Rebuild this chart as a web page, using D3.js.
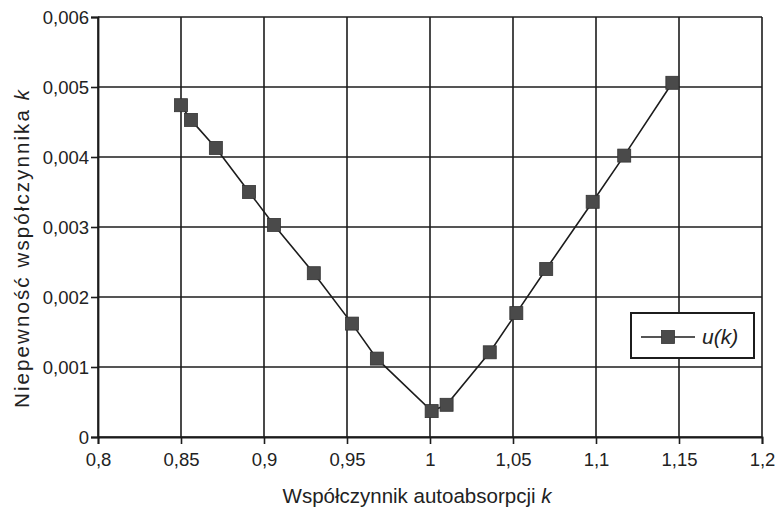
<!DOCTYPE html>
<html>
<head>
<meta charset="utf-8">
<script src="https://cdn.jsdelivr.net/npm/d3@7"></script>
<style>
  html, body { margin: 0; padding: 0; background: #fff; }
  svg { display: block; font-family: "Liberation Sans", Arial, sans-serif; }
</style>
</head>
<body>
<svg id="chart" width="777" height="517"></svg>
<script>
// Współczynnik autoabsorpcji k i jego niepewność u(k)
const kValues = [0.850, 0.856, 0.871, 0.891, 0.906, 0.930, 0.953, 0.968, 1.001, 1.010, 1.036, 1.052, 1.070, 1.098, 1.117, 1.146];
const uValues = [0.00474, 0.00453, 0.00413, 0.00350, 0.00303, 0.00234, 0.00162, 0.00112, 0.00037, 0.00046, 0.00121, 0.00177, 0.00240, 0.00336, 0.00402, 0.00506];
const xTicks = [0.8, 0.85, 0.9, 0.95, 1, 1.05, 1.1, 1.15, 1.2];
const yTicks = [0, 0.001, 0.002, 0.003, 0.004, 0.005, 0.006];
const seriesName = "u(k)";

const margin = { left: 98, top: 17, right: 15, bottom: 80 };
const W = 777, H = 517;
const pw = W - margin.left - margin.right;
const ph = H - margin.top - margin.bottom;

const svg = d3.select("#chart");
const g = svg.append("g").attr("transform", `translate(${margin.left},${margin.top})`);

const x = d3.scaleLinear().domain([0.8, 1.2]).range([0, pw]);
const y = d3.scaleLinear().domain([0, 0.006]).range([ph, 0]);

const fmt = d => String(+d.toFixed(3)).replace(".", ",");
const ink = "#1c1c1c";

// grid
g.append("g").selectAll("line").data(xTicks).join("line")
  .attr("x1", d => x(d)).attr("x2", d => x(d))
  .attr("y1", 0).attr("y2", ph)
  .attr("stroke", ink).attr("stroke-width", 1.6);
g.append("g").selectAll("line").data(yTicks).join("line")
  .attr("x1", 0).attr("x2", pw)
  .attr("y1", d => y(d)).attr("y2", d => y(d))
  .attr("stroke", ink).attr("stroke-width", 1.6);

// axes
const xAxis = g.append("g").attr("transform", `translate(0,${ph})`)
  .call(d3.axisBottom(x).tickValues(xTicks).tickFormat(fmt).tickSize(7).tickPadding(9));
const yAxis = g.append("g")
  .call(d3.axisLeft(y).tickValues(yTicks).tickFormat(fmt).tickSize(7).tickPadding(2));
[xAxis, yAxis].forEach(a => {
  a.select(".domain").attr("stroke", ink).attr("stroke-width", 1.8);
  a.selectAll(".tick line").attr("stroke", ink).attr("stroke-width", 1.6);
  a.selectAll(".tick text").attr("fill", "#222").attr("font-size", 18.5)
    .attr("font-family", "Liberation Sans, Arial, sans-serif");
});
yAxis.selectAll(".tick text").attr("dy", "0.35em");

// series
const pts = kValues.map((k, i) => [k, uValues[i]]);
g.append("path").datum(pts)
  .attr("fill", "none").attr("stroke", ink).attr("stroke-width", 1.6)
  .attr("d", d3.line().x(d => x(d[0])).y(d => y(d[1])));

const ms = 13;
g.append("g").selectAll("rect").data(pts).join("rect")
  .attr("x", d => x(d[0]) - ms / 2).attr("y", d => y(d[1]) - ms / 2)
  .attr("width", ms).attr("height", ms)
  .attr("fill", "#4a4a4a").attr("stroke", "#333").attr("stroke-width", 0.8);

// legend
const lg = svg.append("g").attr("transform", "translate(631,313)");
lg.append("rect").attr("width", 123).attr("height", 45)
  .attr("fill", "#fff").attr("stroke", ink).attr("stroke-width", 2);
lg.append("line").attr("x1", 10).attr("x2", 64).attr("y1", 24).attr("y2", 24)
  .attr("stroke", ink).attr("stroke-width", 1.6);
lg.append("rect").attr("x", 37 - ms / 2).attr("y", 24 - ms / 2)
  .attr("width", ms).attr("height", ms)
  .attr("fill", "#4a4a4a").attr("stroke", "#333").attr("stroke-width", 0.8);
lg.append("text").attr("x", 71).attr("y", 31)
  .attr("font-size", 21).attr("font-style", "italic").attr("fill", "#222")
  .text(seriesName);

// axis titles
const xt = svg.append("text").attr("x", 417).attr("y", 503)
  .attr("text-anchor", "middle").attr("font-size", 20.5).attr("fill", "#222");
xt.append("tspan").text("Współczynnik autoabsorpcji ");
xt.append("tspan").attr("font-style", "italic").text("k");

const yt = svg.append("text")
  .attr("transform", "translate(29,249) rotate(-90)")
  .attr("text-anchor", "middle").attr("font-size", 20.5).attr("fill", "#222")
  .attr("textLength", 318).attr("lengthAdjust", "spacing");
yt.append("tspan").text("Niepewność współczynnika ");
yt.append("tspan").attr("font-style", "italic").text("k");
</script>
</body>
</html>
